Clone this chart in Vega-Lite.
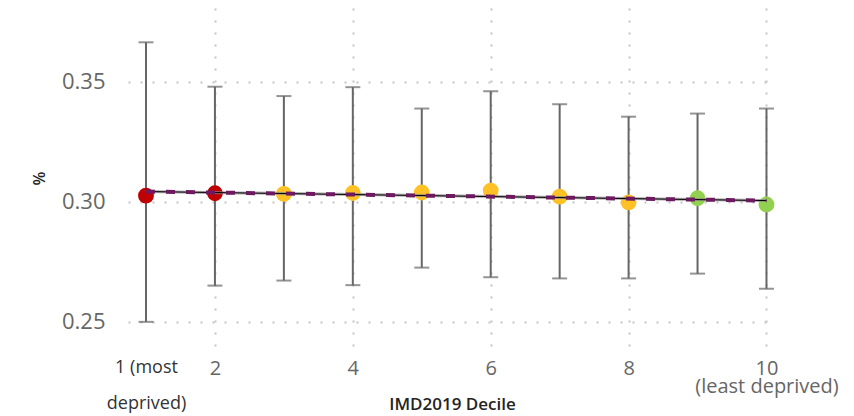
{
  "$schema": "https://vega.github.io/schema/vega-lite/v6.json",
  "autosize": "none",
  "width": 648,
  "height": 340,
  "padding": {"left": 128, "top": 8, "right": 78, "bottom": 68},
  "background": "white",
  "config": {
    "view": {"stroke": null},
    "axis": {"domain": false, "ticks": false, "tickSize": 0, "gridDash": [2, 10], "gridColor": "#c4c4c4", "gridWidth": 2, "labelFont": "Open Sans", "titleFont": "Open Sans"}
  },
  "data": {
    "values": [
      {"decile": 1, "value": 0.3025, "lo": 0.2499, "hi": 0.3664, "band": "red"},
      {"decile": 2, "value": 0.3035, "lo": 0.2650, "hi": 0.3479, "band": "red"},
      {"decile": 3, "value": 0.3032, "lo": 0.2671, "hi": 0.3440, "band": "amber"},
      {"decile": 4, "value": 0.3036, "lo": 0.2652, "hi": 0.3477, "band": "amber"},
      {"decile": 5, "value": 0.3038, "lo": 0.2725, "hi": 0.3388, "band": "amber"},
      {"decile": 6, "value": 0.3046, "lo": 0.2685, "hi": 0.3460, "band": "amber"},
      {"decile": 7, "value": 0.3021, "lo": 0.2680, "hi": 0.3406, "band": "amber"},
      {"decile": 8, "value": 0.2997, "lo": 0.2680, "hi": 0.3354, "band": "amber"},
      {"decile": 9, "value": 0.3014, "lo": 0.2700, "hi": 0.3367, "band": "green"},
      {"decile": 10, "value": 0.2988, "lo": 0.2637, "hi": 0.3388, "band": "green"}
    ]
  },
  "encoding": {
    "x": {
      "field": "decile", "type": "quantitative",
      "scale": {"domain": [0.739, 10.138], "nice": false, "zero": false},
      "axis": {
        "values": [1, 2, 4, 6, 8, 10],
        "title": "IMD2019 Decile",
        "titleFontSize": 17, "titleFontWeight": 600, "titleColor": "#252423",
        "titleY": 61, "titleBaseline": "alphabetic",
        "labelExpr": "datum.value == 1 ? ['1 (most', '\u2800', 'deprived)'] : datum.value == 10 ? ['10', '(least deprived)'] : datum.label",
        "labelFontSize": {"condition": {"test": "datum.value == 1", "value": 18}, "value": 20},
        "labelColor": {"condition": {"test": "datum.value == 1", "value": "#333333"}, "value": "#666666"},
        "labelLineHeight": 18,
        "labelPadding": 10,
        "labelOverlap": false,
        "gridOpacity": {"condition": {"test": "datum.value == 1", "value": 0}, "value": 1}
      }
    }
  },
  "layer": [
    {
      "mark": {"type": "rule", "color": "#666666", "strokeWidth": 2},
      "encoding": {
        "y": {"field": "lo", "type": "quantitative",
          "scale": {"domain": [0.239, 0.3807], "nice": false, "zero": false},
          "axis": {"values": [0.25, 0.3, 0.35], "format": ".2f", "title": "%",
            "titleFontSize": 16, "titleFontWeight": 600, "titleColor": "#252423", "titlePadding": 14,
            "labelFontSize": 22, "labelColor": "#666666", "labelPadding": 23}},
        "y2": {"field": "hi"}
      }
    },
    {
      "mark": {"type": "tick", "orient": "horizontal", "color": "#666666", "size": 15, "thickness": 2},
      "encoding": {"y": {"field": "lo", "type": "quantitative"}}
    },
    {
      "mark": {"type": "tick", "orient": "horizontal", "color": "#666666", "size": 15, "thickness": 2},
      "encoding": {"y": {"field": "hi", "type": "quantitative"}}
    },
    {
      "mark": {"type": "circle", "size": 250, "opacity": 1},
      "encoding": {
        "y": {"field": "value", "type": "quantitative"},
        "color": {"field": "band", "type": "nominal", "legend": null,
          "scale": {"domain": ["red", "amber", "green"], "range": ["#C00000", "#FFC125", "#92D050"]}}
      }
    },
    {
      "transform": [{"regression": "value", "on": "decile", "extent": [1, 10]}],
      "layer": [
        {"mark": {"type": "line", "color": "#888888", "strokeWidth": 3, "opacity": 0.7}, "encoding": {"y": {"field": "value", "type": "quantitative"}}},
        {"mark": {"type": "line", "color": "#000000", "strokeWidth": 1}, "encoding": {"y": {"field": "value", "type": "quantitative"}}},
        {"mark": {"type": "line", "color": "#6E1A60", "strokeWidth": 4, "strokeDash": [9, 11]}, "encoding": {"y": {"field": "value", "type": "quantitative"}}}
      ]
    }
  ]
}
